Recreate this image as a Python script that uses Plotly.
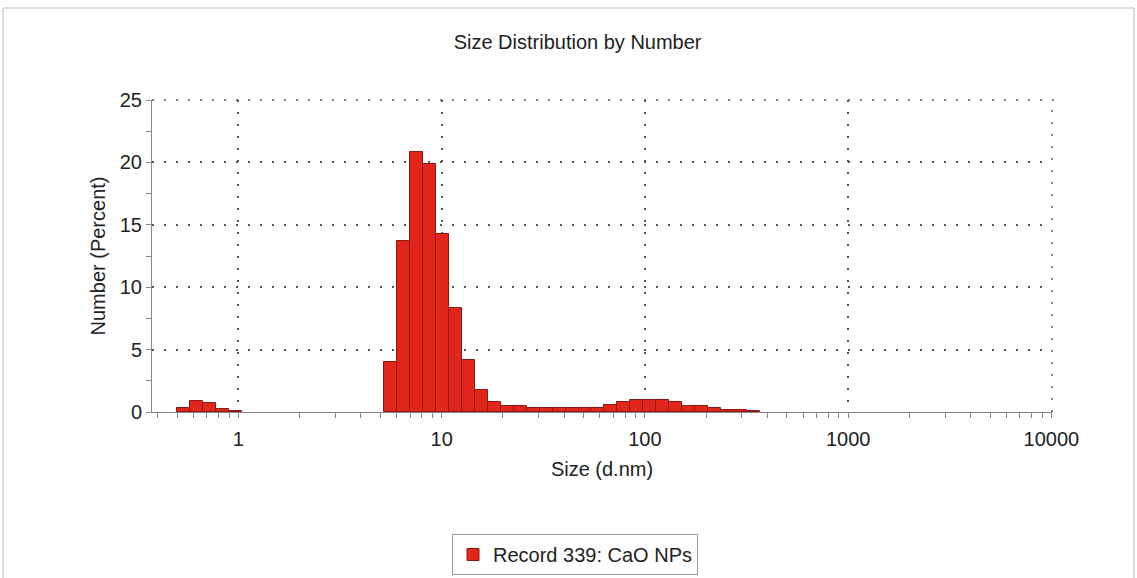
import plotly.graph_objects as go

# Size bins (d.nm) and number percentages
sizes = [0.5365, 0.6213, 0.7195, 0.8332, 0.9649,
         5.615, 6.503, 7.531, 8.721, 10.1, 11.7, 13.54, 15.69, 18.17, 21.04, 24.36,
         28.21, 32.67, 37.84, 43.82, 50.75, 58.77, 68.06, 78.82, 91.28, 105.7,
         122.4, 141.8, 164.2, 190.1, 220.2, 255.0, 295.3, 342.0]
number_pct = [0.3, 0.9, 0.75, 0.25, 0.1,
              4.0, 13.7, 20.8, 19.9, 14.3, 8.3, 4.2, 1.8, 0.8, 0.5, 0.5,
              0.3, 0.3, 0.3, 0.3, 0.3, 0.3, 0.6, 0.8, 0.95, 1.0,
              1.0, 0.8, 0.5, 0.45, 0.3, 0.18, 0.15, 0.12]
x_tick_vals = [1, 10, 100, 1000, 10000]
x_tick_text = ["1", "10", "100", "1000", "10000"]
y_tick_vals = [0, 5, 10, 15, 20, 25]

# Malvern bins: 70 log-spaced classes from 0.4 to 10000 nm
ratio = (10000 / 0.4) ** (1 / 69)
half = ratio ** 0.5
widths = [s * half - s / half for s in sizes]
offsets = [s / half - s for s in sizes]

minor_vals = [m * 10 ** d for d in range(-1, 4) for m in range(2, 10)
              if 0.38 <= m * 10 ** d <= 10000]

FONT = "Liberation Sans, Arial, sans-serif"
TXT = "#222"
FS = 20

fig = go.Figure()
fig.add_trace(go.Bar(
    x=sizes, y=number_pct, width=widths, offset=offsets,
    marker=dict(color="#e3261c", line=dict(color="#8e1812", width=1)),
    name="Record 339: CaO NPs",
))

dash = "2px,10px"
fig.update_layout(
    width=1137, height=578,
    paper_bgcolor="white", plot_bgcolor="white",
    margin=dict(l=152, r=85, t=100, b=166, autoexpand=False),
    font=dict(family=FONT, color=TXT),
    title=dict(text="Size Distribution by Number", x=0.508, xref="container",
               y=1 - 42 / 578, yref="container", xanchor="center", yanchor="middle",
               font=dict(size=FS, family=FONT, color=TXT)),
    showlegend=True,
    legend=dict(x=575 / 1137, y=1 - 534 / 578, xref="container", yref="container",
                xanchor="center", yanchor="top",
                bordercolor="#999", borderwidth=1,
                font=dict(size=FS, family=FONT, color=TXT)),
    bargap=0,
)
fig.update_xaxes(
    type="log", range=[-0.425, 4.003],
    tickmode="array", tickvals=x_tick_vals, ticktext=x_tick_text,
    tickfont=dict(size=FS, family=FONT, color=TXT),
    ticks="outside", ticklen=5, tickcolor="#888", ticklabelstandoff=4,
    showline=True, linecolor="#888", linewidth=1,
    showgrid=True, gridcolor="#555", gridwidth=1.5, griddash=dash,
    minor=dict(tickmode="array", tickvals=minor_vals, ticks="outside", ticklen=5,
               tickcolor="#888", showgrid=False),
    title=dict(text="Size (d.nm)", font=dict(size=FS, family=FONT, color=TXT), standoff=12),
    zeroline=False,
)
fig.update_yaxes(
    range=[0, 25], tickmode="array", tickvals=y_tick_vals,
    tickfont=dict(size=FS, family=FONT, color=TXT),
    ticks="outside", ticklen=5, tickcolor="#888",
    showline=True, linecolor="#888", linewidth=1,
    showgrid=True, gridcolor="#555", gridwidth=1.5, griddash=dash,
    minor=dict(dtick=2.5, ticks="outside", ticklen=5, tickcolor="#888", showgrid=False),
    title=dict(text="Number (Percent)", font=dict(size=FS, family=FONT, color=TXT), standoff=8),
    zeroline=False,
)
# dotted grid lines along the top and right edges of the plot area
fig.add_shape(type="line", xref="paper", yref="paper", x0=0, x1=1.006, y0=1, y1=1,
              line=dict(color="#555", width=1.5, dash=dash))
fig.add_shape(type="line", xref="paper", yref="paper", x0=1, x1=1, y0=0, y1=1,
              line=dict(color="#555", width=1.5, dash=dash))
# outer frame of the picture
fig.add_shape(type="rect", xref="paper", yref="paper",
              x0=(3 - 152) / 900, x1=(1134 - 152) / 900,
              y0=(412 - 600) / 312, y1=(412 - 8) / 312,
              line=dict(color="#bbb", width=1), fillcolor="rgba(0,0,0,0)", layer="below")

fig.write_html("out.html")
